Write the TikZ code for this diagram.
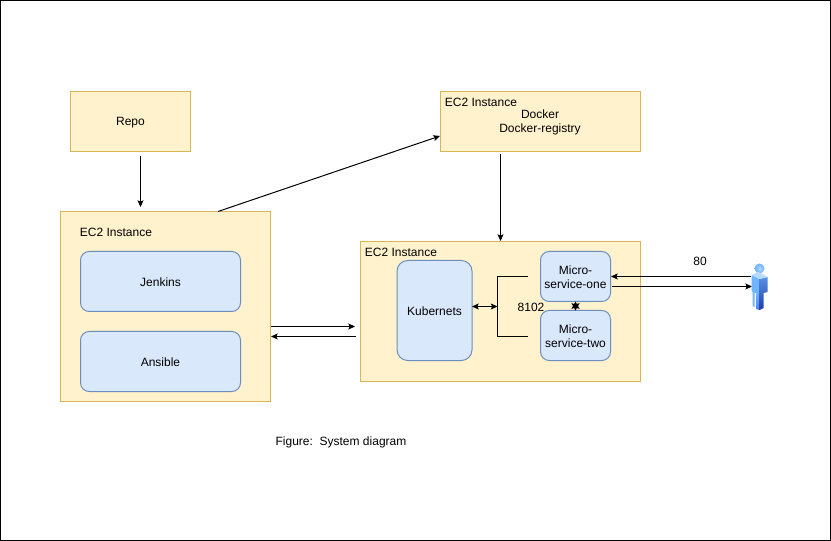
\documentclass[tikz,border=0pt]{standalone}
\usepackage{fontspec}
\setmainfont{Liberation Sans}
\usetikzlibrary{arrows.meta}
\definecolor{boxyellow}{HTML}{FFF2CC}
\definecolor{lineyellow}{HTML}{D6B656}
\definecolor{boxblue}{HTML}{DAE8FC}
\definecolor{lineblue}{HTML}{6C8EBF}
\definecolor{userlight}{HTML}{6FB4FF}
\definecolor{userdark}{HTML}{1F3FA8}
\tikzset{
  yellowbox/.style={shape=rectangle,draw=lineyellow,fill=boxyellow,inner sep=0pt,outer sep=0pt},
  bluebox/.style={shape=rectangle,rounded corners=6.5pt,draw=lineblue,fill=boxblue,
    inner sep=0pt,outer sep=0pt,align=center,text height=8pt},
  plaintext/.style={inner sep=0pt,outer sep=0pt,align=center},
  flow/.style={->,>={Stealth[length=5pt,width=4.5pt,inset=1pt]},black},
  flowboth/.style={<->,>={Stealth[length=5pt,width=4.5pt,inset=1pt]},black},
  flowshort/.style={<->,>={Stealth[length=5.5pt,width=6pt,inset=1pt]},black}
}

\begin{document}
\begin{tikzpicture}
[x=0.75pt,y=-0.75pt,line width=0.75pt,%
  every node/.append style={font=\fontsize{9pt}{10.5pt}\selectfont}]
\useasboundingbox (0,0) rectangle (831,541);
\draw[black] (0.5,0.5) rectangle (830.5,540.5);

% boxes
\node[yellowbox,minimum width=90pt,minimum height=45pt,text height=8pt] (repo) at (130.5,121.5) {Repo};
\node[yellowbox,minimum width=150pt,minimum height=45pt] (docker) at (540.5,121.5) {};
\node[yellowbox,minimum width=157.5pt,minimum height=142.5pt] (build) at (165.5,306.5) {};
\node[yellowbox,minimum width=210pt,minimum height=105pt] (cluster) at (500.5,311.5) {};
\node[bluebox,minimum width=120pt,minimum height=45pt] (jenkins) at (160.5,281.5) {Jenkins};
\node[bluebox,minimum width=120pt,minimum height=45pt] (ansible) at (160.5,361.5) {Ansible};
\node[bluebox,rounded corners=8pt,minimum width=56.25pt,minimum height=75pt] (kube) at (434.5,310.5) {Kubernets};
\node[bluebox,text height=18.6pt,minimum width=52.5pt,minimum height=37.5pt] (msone) at (575.5,276.5) {Micro-\\service-one};
\node[bluebox,text height=18.6pt,minimum width=52.5pt,minimum height=37.5pt] (mstwo) at (575.5,335.5) {Micro-\\service-two};

% labels
\node[plaintext] (lbldocker) at (481,102.2) {EC2 Instance};
\node[plaintext] (lbldockertxt) at (540,122.7) {Docker\\Docker-registry};
\node[plaintext] (lblbuild) at (116,232.2) {EC2 Instance};
\node[plaintext] (lblcluster) at (401,252.2) {EC2 Instance};
\node[plaintext] (lblport) at (531,307.5) {8102};
\node[plaintext] (lblhttp) at (700,261.5) {80};
\node[plaintext] (caption) at (341,442) {Figure:\ \ System diagram};

% free ends
\coordinate (repoout) at (140.5,156);
\coordinate (buildin) at (140.5,207);
\coordinate (buildout) at (218,211.5);
\coordinate (dockerin) at (440,136);
\coordinate (dockerout) at (500.5,154);
\coordinate (clusterin) at (500.5,241);
\coordinate (a1) at (270.5,326.5);
\coordinate (a2) at (355,326.5);
\coordinate (b1) at (355.5,336.5);
\coordinate (b2) at (271,336.5);
\coordinate (fork) at (497.5,306.5);
\coordinate (forktop) at (528,276.5);
\coordinate (forkbot) at (528,336.5);
\coordinate (c1) at (751,276.5);
\coordinate (c2) at (611,276.5);
\coordinate (d1) at (612,286.5);
\coordinate (d2) at (752,286.5);

% connectors
\draw[flow] (repoout) -- (buildin);
\draw[flow] (buildout) -- (dockerin);
\draw[flow] (dockerout) -- (clusterin);
\draw[flow] (a1) -- (a2);
\draw[flow] (b1) -- (b2);
\draw[flowboth] (kube.east |- fork) -- (fork);
\draw[black] (forktop) -| (fork) |- (forkbot);
\draw[flowshort] (msone.south) -- (mstwo.north);
\draw[flow] (c1) -- (c2);
\draw[flow] (d1) -- (d2);

% user
\coordinate (user) at (759.5,287);
\begin{scope}[shift={(user)}]
  \shade[inner color=userlight!55!white,outer color=userlight] (0,-18.5) circle (5);
  \fill[userlight] (-8,-12) -- (0,-8) -- (0,23) -- (-3,22) -- (-3,6) -- (-5,6) -- (-5,20) -- (-7,19) -- (-7,5) -- (-8,4) -- cycle;
  \shade[top color=userlight,bottom color=userlight!70!blue] (-3,6) -- (0,6) -- (0,23) -- (-3,22) -- cycle;
  \shade[top color=userlight!70!userdark,bottom color=userdark] (0,-8) -- (8,-10) -- (8,5) -- (4,6) -- (4,21) -- (0,23) -- cycle;
  \fill[userlight!50!white] (-8,-12) -- (-1,-15) -- (8,-10) -- (0,-8) -- cycle;
\end{scope}
\end{tikzpicture}
\end{document}
